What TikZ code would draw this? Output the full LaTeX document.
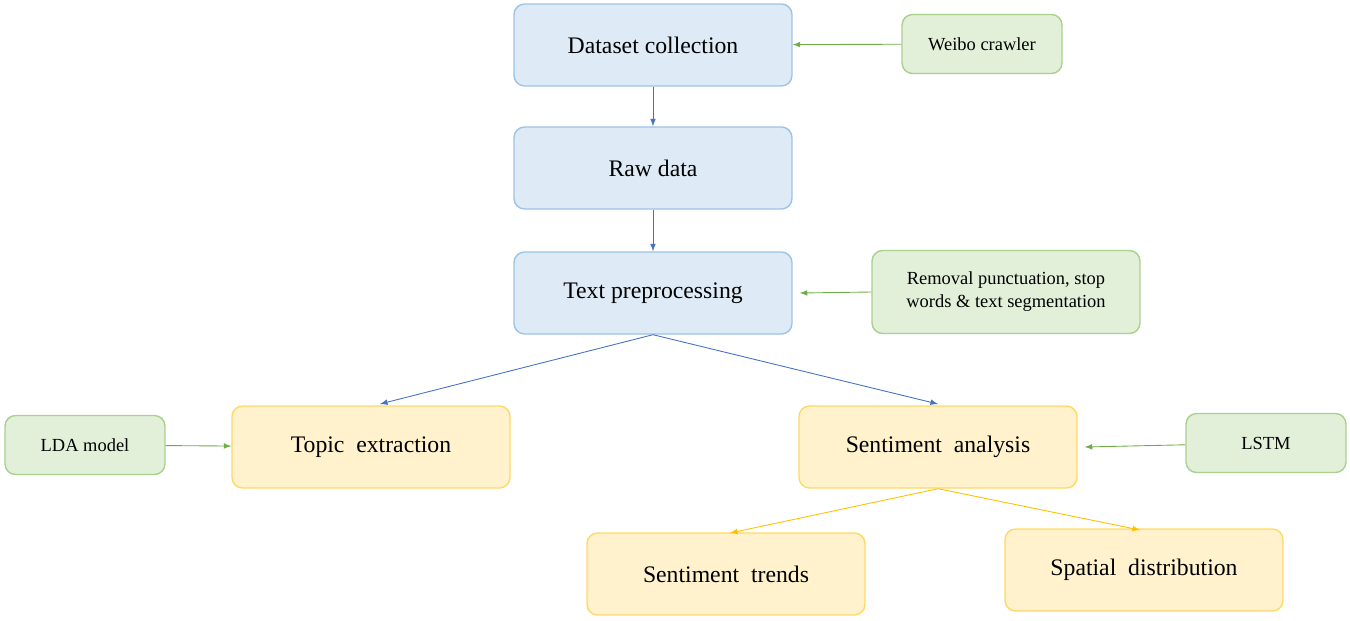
\documentclass[tikz,border=0pt]{standalone}
\usepackage{fontspec}
\setmainfont{Liberation Serif}
\usetikzlibrary{positioning}
\definecolor{bluefill}{HTML}{DEEBF7}
\definecolor{blueline}{HTML}{9DC3E6}
\definecolor{bluearrow}{HTML}{4472C4}
\definecolor{greenfill}{HTML}{E2F0D9}
\definecolor{greenline}{HTML}{A9D18E}
\definecolor{greenarrow}{HTML}{70AD47}
\definecolor{yellowfill}{HTML}{FFF2CC}
\definecolor{yellowline}{HTML}{FFD966}
\definecolor{yellowarrow}{HTML}{FFC000}
\begin{document}
\begin{tikzpicture}
		[x=0.02cm, y=-0.02cm,
		stage/.style={rectangle, rounded corners=6pt, draw=blueline, fill=bluefill, line width=0.8pt, minimum width=5.56cm, minimum height=1.64cm, font=\fontsize{13.5}{16}\selectfont},
		result/.style={stage, draw=yellowline, fill=yellowfill},
		tool/.style={rectangle, rounded corners=6pt, draw=greenline, fill=greenfill, line width=0.8pt, minimum width=3.2cm, minimum height=1.18cm, align=center, font=\fontsize{10.5}{13}\selectfont},
		flow/.style={->, >=latex, bluearrow, line width=0.5pt},
		feed/.style={->, >=latex, greenarrow, line width=0.5pt},
		split/.style={->, >=latex, yellowarrow, line width=0.5pt}]
		\useasboundingbox (0,0) rectangle (1350,620);
		\node[stage] (dc) at (653,45) {Dataset collection};
		\node[stage] (rd) at (653,168) {Raw data};
		\node[stage] (tp) at (653,293) {Text preprocessing};
		\node[tool] (wc) at (982,44) {Weibo crawler};
		\node[tool, minimum width=5.36cm, minimum height=1.66cm] (rp) at (1006,292) {Removal punctuation, stop\\words \& text segmentation};
		\node[tool] (lda) at (85,445) {LDA model};
		\node[result] (te) at (371,447) {Topic\ \ extraction};
		\node[result] (sa) at (938,447) {Sentiment\ \ analysis};
		\node[tool] (lstm) at (1266,443) {LSTM};
		\node[result] (st) at (726,574) {Sentiment\ \ trends};
		\node[result] (sd) at (1144,570) {Spatial\ \ distribution};

		\draw[flow] (dc) -- (rd);
		\draw[flow] (rd) -- (tp);
		\draw[flow] (tp.south) -- (380,404);
		\draw[flow] (tp.south) -- (938,404);
		\draw[feed] (wc) -- (dc);
		\draw[feed] (rp.west) -- ([xshift=4pt]tp.east);
		\draw[feed] (lda) -- (te);
		\draw[feed] (lstm) -- ([xshift=4pt]sa.east);
		\draw[split] (sa.south) -- (730,533);
		\draw[split] (sa.south) -- (1140,530);
	\end{tikzpicture}
\end{document}
